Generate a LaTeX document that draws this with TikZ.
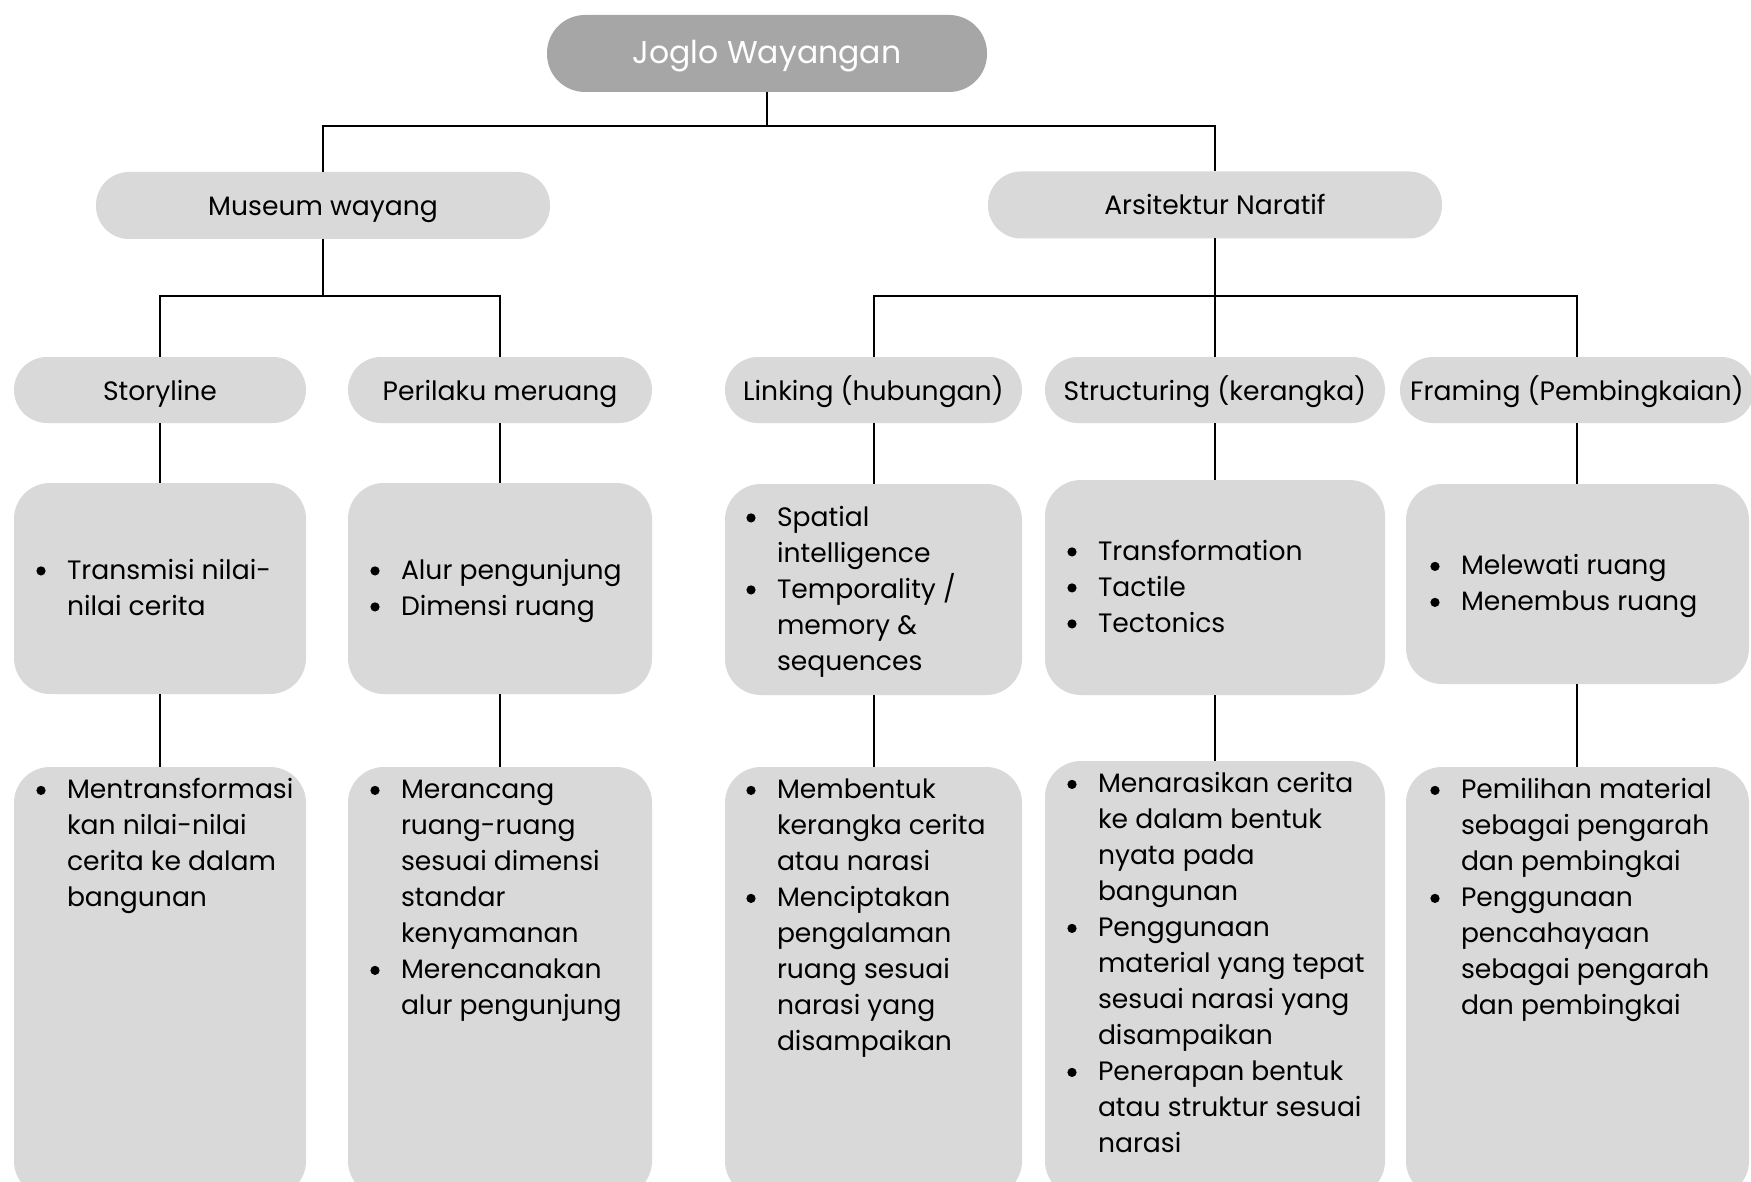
\documentclass[tikz,border=0pt]{standalone}
\usepackage{fontspec}
\setmainfont{Poppins}
\definecolor{boxgray}{HTML}{D9D9D9}
\definecolor{topgray}{HTML}{A6A6A6}
\newcommand{\bodyfont}{\fontsize{26.6}{36}\selectfont}
\newcommand{\titlefont}{\fontsize{26.6}{31}\selectfont}
\newcommand{\topfont}{\fontsize{31.5}{36}\selectfont}
\newcommand{\bdot}{\raisebox{3.7pt}{\tikz\fill[black] (0pt,0pt) circle[radius=4.6pt];}}
\newcommand{\bl}{\leavevmode\llap{\makebox[52pt]{\bdot}}\strut}
\newcommand{\cl}{\strut}
\tikzset{
  pill/.style={fill=boxgray, rounded corners=33pt, text=black, font=\titlefont, inner sep=0pt, outer sep=0pt, text height=25pt, text depth=5pt},
  card/.style={fill=boxgray, rounded corners=36pt, inner sep=0pt, outer sep=0pt},
  txt/.style={align=left, anchor=west, font=\bodyfont, inner sep=0pt, outer sep=0pt, text=black},
  conn/.style={draw=black, line width=2pt}
}
\begin{document}
\begin{tikzpicture}[x=1pt, y=-1pt]
\useasboundingbox (0,0) rectangle (1751,1182);
\clip (0,0) rectangle (1751,1182);
\fill[white] (0,0) rectangle (1751,1182);

% level 1
\node[fill=topgray, rounded corners=38pt, text=white, font=\topfont, inner sep=0pt, outer sep=0pt,
      text height=27pt, text depth=7pt, minimum width=440pt, minimum height=77pt] (joglo) at (767,53.5) {Joglo Wayangan};

% level 2
\node[pill, minimum width=454pt, minimum height=67pt] (museum) at (323,205.5) {Museum wayang};
\node[pill, minimum width=454pt, minimum height=67pt] (arsi) at (1215,205) {Arsitektur Naratif};

% level 3
\node[pill, minimum width=292pt, minimum height=66pt] (story) at (160,390) {Storyline};
\node[pill, minimum width=304pt, minimum height=66pt] (peri) at (500,390) {Perilaku meruang};
\node[pill, minimum width=297pt, minimum height=66pt] (link) at (873.5,390) {Linking (hubungan)};
\node[pill, minimum width=340pt, minimum height=66pt] (struc) at (1215,390) {Structuring (kerangka)};
\node[pill, minimum width=354pt, minimum height=66pt] (fram) at (1577,390) {Framing (Pembingkaian)};

% level 4 cards
\node[card, minimum width=292pt, minimum height=211pt] (story4) at (160,588.5) {};
\node[card, minimum width=304pt, minimum height=211pt] (peri4) at (500,588.5) {};
\node[card, minimum width=297pt, minimum height=211pt] (link4) at (873.5,589.5) {};
\node[card, minimum width=340pt, minimum height=215pt] (struc4) at (1215,587.5) {};
\node[card, minimum width=343pt, minimum height=200pt] (fram4) at (1577.5,584) {};

% level 5 cards
\node[card, minimum width=292pt, minimum height=430pt] (story5) at (160,982) {};
\node[card, minimum width=304pt, minimum height=430pt] (peri5) at (500,982) {};
\node[card, minimum width=297pt, minimum height=430pt] (link5) at (873.5,982) {};
\node[card, minimum width=340pt, minimum height=436pt] (struc5) at (1215,979) {};
\node[card, minimum width=343pt, minimum height=430pt] (fram5) at (1577.5,982) {};

% texts level 4
\node[txt] (tstory4) at ([xshift=53pt,yshift=-1.5pt]story4.west) {\bl Transmisi nilai-\\\cl nilai cerita};
\node[txt] (tperi4) at ([xshift=53pt,yshift=-1.5pt]peri4.west) {\bl Alur pengunjung\\\bl Dimensi ruang};
\node[txt] (tlink4) at ([xshift=52pt,yshift=-1.5pt]link4.west) {\bl Spatial\\\cl intelligence\\\bl Temporality /\\\cl memory \&\\\cl sequences};
\node[txt] (tstruc4) at ([xshift=53pt,yshift=-1.5pt]struc4.west) {\bl Transformation\\\bl Tactile\\\bl Tectonics};
\node[txt] (tfram4) at ([xshift=55pt,yshift=-1.5pt]fram4.west) {\bl Melewati ruang\\\bl Menembus ruang};

% texts level 5
\node[txt, anchor=north west] (tstory5) at ([xshift=53pt,yshift=-6.5pt]story5.north west)
  {\bl Mentransformasi\\\cl kan nilai-nilai\\\cl cerita ke dalam\\\cl bangunan};
\node[txt, anchor=north west] (tperi5) at ([xshift=53pt,yshift=-6.5pt]peri5.north west)
  {\bl Merancang\\\cl ruang-ruang\\\cl sesuai dimensi\\\cl standar\\\cl kenyamanan\\\bl Merencanakan\\\cl alur pengunjung};
\node[txt, anchor=north west] (tlink5) at ([xshift=52pt,yshift=-6.5pt]link5.north west)
  {\bl Membentuk\\\cl kerangka cerita\\\cl atau narasi\\\bl Menciptakan\\\cl pengalaman\\\cl ruang sesuai\\\cl narasi yang\\\cl disampaikan};
\node[txt, anchor=north west] (tstruc5) at ([xshift=53pt,yshift=-6.5pt]struc5.north west)
  {\bl Menarasikan cerita\\\cl ke dalam bentuk\\\cl nyata pada\\\cl bangunan\\\bl Penggunaan\\\cl material yang tepat\\\cl sesuai narasi yang\\\cl disampaikan\\\bl Penerapan bentuk\\\cl atau struktur sesuai\\\cl narasi};
\node[txt, anchor=north west] (tfram5) at ([xshift=55pt,yshift=-6.5pt]fram5.north west)
  {\bl Pemilihan material\\\cl sebagai pengarah\\\cl dan pembingkai\\\bl Penggunaan\\\cl pencahayaan\\\cl sebagai pengarah\\\cl dan pembingkai};

% connectors
\coordinate (b1) at (767,126);
\coordinate (b2) at (323,296);
\coordinate (b3) at (1215,296);
\draw[conn] (joglo.south) -- (b1);
\draw[conn] (museum.north) |- (b1) -| (arsi.north);
\draw[conn] (museum.south) -- (b2);
\draw[conn] (story.north) |- (b2) -| (peri.north);
\draw[conn] (arsi.south) -- (b3);
\draw[conn] (link.north) |- (b3) -| (fram.north);
\draw[conn] (b3) -- (struc.north);

\draw[conn] (story.south) -- (story4.north);
\draw[conn] (peri.south) -- (peri4.north);
\draw[conn] (link.south) -- (link4.north);
\draw[conn] (struc.south) -- (struc4.north);
\draw[conn] (fram.south) -- (fram.south |- fram4.north);

\draw[conn] (story4.south) -- (story5.north);
\draw[conn] (peri4.south) -- (peri5.north);
\draw[conn] (link4.south) -- (link5.north);
\draw[conn] (struc4.south) -- (struc5.north);
\draw[conn] (fram.south |- fram4.south) -- (fram.south |- fram5.north);
\end{tikzpicture}
\end{document}
